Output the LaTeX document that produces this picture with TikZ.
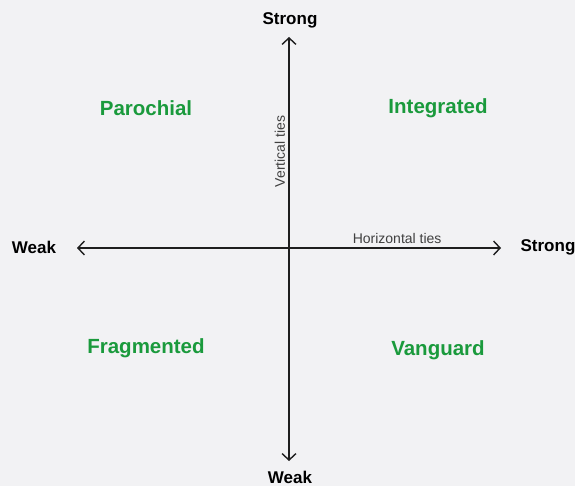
\documentclass[tikz,border=0pt]{standalone}
\usepackage{fontspec}
\setmainfont{Liberation Sans}
\usepackage{tikz}
\usetikzlibrary{arrows.meta}
\definecolor{bggray}{HTML}{F2F2F4}
\definecolor{quadgreen}{HTML}{1A9A3C}
\definecolor{axisink}{HTML}{1E1E1E}

\begin{document}
\begin{tikzpicture}[x=1pt,y=-1pt,>={Straight Barb[length=6.5pt,width=14pt]},
      thick,
      end node/.style={font=\bfseries\fontsize{17}{19}\selectfont,text=black},
      quad node/.style={font=\bfseries\fontsize{20.5}{23}\selectfont,text=quadgreen},
      tie node/.style={font=\fontsize{14}{16}\selectfont,text=axisink!85}]

      \fill[bggray] (0,0) rectangle (575,486);
      \useasboundingbox (0,0) rectangle (575,486);

      % axis ends
      \coordinate (top) at (289,37);
      \coordinate (bottom) at (289,461);
      \coordinate (left) at (77,248);
      \coordinate (right) at (501,248);

      \node[end node] (strong v) at (290,20) {Strong};
      \node[end node] (weak v) at (290,477) {Weak};
      \node[end node] (weak h) at (34,247) {Weak};
      \node[end node] (strong h) at (548,247) {Strong};

      \node[quad node] (paro) at (146,108) {Parochial};
      \node[quad node] (integ) at (438,108) {Integrated};
      \node[quad node] (frag) at (146,348) {Fragmented};
      \node[quad node] (vang) at (438,350) {Vanguard};

      \draw[<->,axisink,line width=1.4pt] (left) -- (right)
        node[tie node,pos=0.755,above=0pt] (htie) {Horizontal ties};
      \draw[<->,axisink,line width=1.4pt] (bottom) -- (top)
        node[tie node,pos=0.73,rotate=90,above=0pt] (vtie) {Vertical ties};
    \end{tikzpicture}
\end{document}
